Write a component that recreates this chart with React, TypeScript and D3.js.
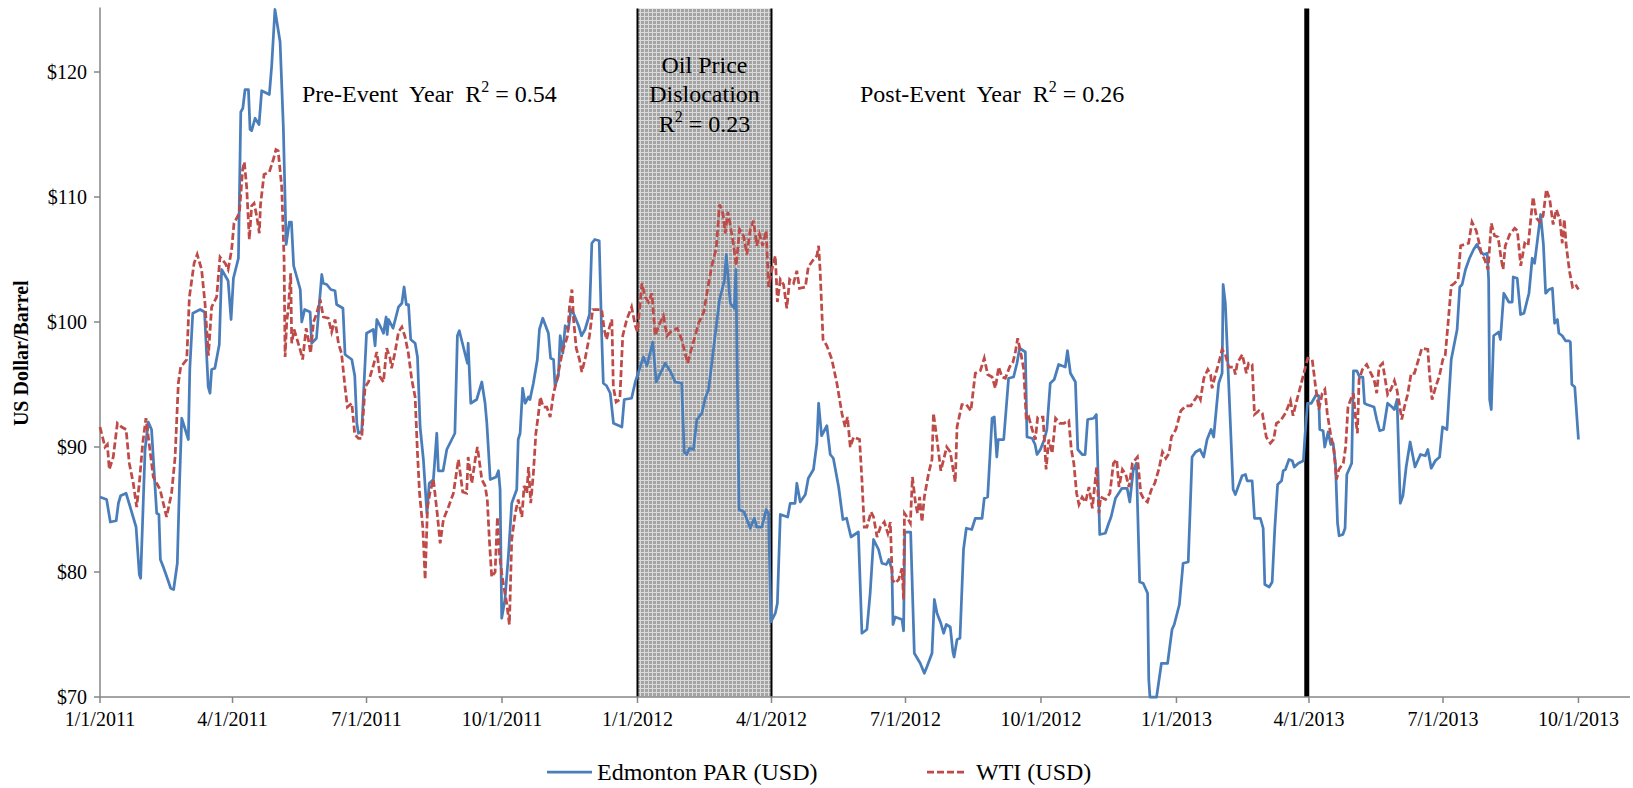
import * as d3 from "d3";

// days since 1/1/2011, US$/bbl
const edmontonPar: [number, number][] = [
  [0, 86.0], [4.5, 85.8], [7, 84.0], [11, 84.1], [12.5, 85.5], [14, 86.1], [17.7, 86.3], [20, 85.4],
  [24.5, 83.6], [26.7, 79.8], [27.6, 79.5], [30.6, 89.8], [32.8, 92.0], [35, 91.4], [38.5, 84.7],
  [40, 84.6], [41, 81.0], [43, 80.4], [45.7, 79.5], [48, 78.7], [50, 78.6], [52.5, 80.7], [54, 87.1],
  [55.5, 92.3], [60, 90.6], [61, 96.3], [63, 100.7], [68, 101.0], [71, 100.8], [73.5, 94.8],
  [74.7, 94.3], [75.8, 96.2], [78, 96.3], [81, 98.2], [82.6, 104.2], [87, 103.3], [89, 100.2],
  [90.6, 103.5], [94, 105.1], [95.6, 116.8], [97, 117.1], [98.5, 118.6], [100.8, 118.6],
  [101.9, 115.4], [103, 115.3], [105.3, 116.3], [108, 115.8], [109.8, 118.5], [115, 118.2],
  [116.6, 120.5], [118.8, 125.0], [122.3, 122.4], [124.5, 115.6], [126.4, 106.2], [128.6, 108.0],
  [130, 108.0], [131.5, 104.5], [136, 102.6], [137, 100.0], [139, 101.0], [142.7, 100.8],
  [143.7, 98.3], [147, 98.7], [150.6, 103.8], [151.6, 103.1], [154, 103.0], [156.7, 102.6],
  [159.6, 102.5], [160.7, 101.4], [165, 101.1], [166.4, 97.4], [171, 97.0], [173, 95.7],
  [174.4, 91.9], [175.5, 91.1], [177.7, 91.2], [181, 99.1], [185.6, 99.4], [186.8, 98.1],
  [188, 100.2], [191.4, 99.4], [192.5, 99.1], [194.3, 100.4], [195, 99.0], [196, 100.2], [199, 99.5],
  [202.7, 101.2], [205, 101.5], [206.5, 102.8], [208, 101.4], [209.5, 101.4], [211, 98.6], [214, 98.3],
  [215.6, 97.2], [217.4, 91.6], [219.6, 89.0], [222, 84.7], [223.6, 87.1], [226.4, 87.4],
  [228.7, 91.1], [229.8, 88.1], [233, 88.1], [235.5, 89.8], [241, 91.1], [242.7, 98.9], [244, 99.3],
  [249.5, 96.7], [250, 98.3], [251.8, 93.5], [255.8, 93.8], [259.3, 95.2], [261.5, 93.5],
  [262.7, 91.9], [265, 87.4], [269, 87.6], [270.6, 88.1], [271.7, 86.6], [272.8, 76.3], [275, 77.8],
  [277.4, 81.4], [279.6, 85.5], [283, 86.6], [284, 90.6], [285.3, 91.1], [287, 94.7], [288.7, 93.5],
  [291, 94.0], [292, 93.8], [294.3, 95.1], [297, 97.0], [298.4, 99.4], [300.7, 100.3], [304.5, 99.1],
  [306, 97.1], [308, 97.0], [309, 94.9], [311.3, 95.7], [312.5, 98.9], [314.3, 97.5], [315.9, 99.7],
  [318, 99.4], [319.8, 101.0], [321.5, 100.7], [325, 99.7], [327, 98.9], [329.4, 99.4],
  [332.4, 100.6], [334, 106.3], [336, 106.6], [339, 106.5], [340.7, 98.9], [341.8, 95.1], [344, 94.9],
  [346.5, 94.3], [348.7, 91.9], [354.4, 91.6], [356, 93.8], [361, 93.9], [363.5, 95.2], [369, 97.2],
  [371.4, 96.5], [375.4, 98.4], [377.7, 95.2], [383.8, 96.7], [387.6, 96.0], [390.6, 95.2],
  [395, 95.1], [396.7, 89.6], [398.5, 89.4], [400.3, 89.9], [403, 89.8], [405.3, 92.2], [408.7, 92.7],
  [411, 93.9], [413.3, 94.6], [417.8, 99.0], [420.7, 101.8], [424, 103.3], [425.3, 105.4],
  [428, 101.5], [430.8, 101.1], [431.8, 104.2], [432.5, 98.1], [434, 85.0], [437.4, 84.8],
  [441.6, 83.5], [444.3, 84.3], [446, 83.6], [449.5, 83.6], [452.4, 85.0], [454, 84.7], [455.6, 76.0],
  [458.6, 76.7], [460, 77.5], [462, 84.6], [467, 84.4], [468.7, 85.5], [472, 85.5], [473.2, 87.1],
  [475.5, 85.6], [479, 86.2], [481, 87.5], [484.5, 88.2], [486.8, 90.3], [488, 93.5], [490, 90.9],
  [493.6, 91.7], [495.9, 89.4], [498, 89.1], [501.6, 86.8], [504.5, 84.2], [507, 84.3], [510, 82.8],
  [515, 83.2], [517.4, 75.1], [520.8, 75.4], [523, 78.3], [525.3, 82.6], [528.7, 81.8], [531, 80.7],
  [534, 80.6], [535.7, 81.0], [537.8, 80.2], [538.5, 75.8], [540, 76.4], [544.6, 76.2], [545.7, 75.3],
  [546.5, 83.2], [550.5, 83.2], [553, 73.5], [557, 72.7], [559.8, 71.9], [561.5, 72.4], [565, 73.5],
  [566.6, 77.8], [568.4, 76.7], [571, 75.9], [572.9, 75.1], [574.7, 75.8], [577.4, 75.6],
  [579.2, 73.6], [580, 73.2], [582, 74.6], [584, 74.7], [586.4, 81.8], [588.3, 83.5], [592, 83.4],
  [594.4, 84.3], [599, 84.3], [600.5, 85.9], [602.8, 86.0], [605.8, 92.3], [607.3, 92.4], [609, 89.2],
  [610, 90.6], [613.7, 90.6], [617, 95.5], [620.4, 95.6], [622.7, 96.7], [624.5, 97.9], [628.4, 97.6],
  [629.5, 90.8], [633, 90.7], [635, 90.2], [636.3, 89.4], [638.6, 89.8], [641.3, 90.6], [643, 91.4],
  [645.3, 95.1], [648, 95.4], [651, 96.6], [655.5, 96.4], [657, 97.7], [659, 95.9], [662.4, 95.2],
  [664, 89.8], [667, 89.4], [669, 89.4], [670.7, 92.2], [674.8, 92.3], [676.6, 92.6], [678.9, 83.0],
  [682.7, 83.1], [685, 83.9], [686.6, 84.4], [689.6, 85.9], [694, 86.7], [697.5, 86.7], [699.3, 85.6],
  [701.6, 88.1], [703.8, 88.7], [706, 79.2], [708.4, 79.1], [711.4, 78.3], [712.2, 71.4], [713, 70.0],
  [717.5, 70.0], [720.8, 72.7], [725, 72.7], [728, 75.4], [729.5, 75.8], [733, 77.4], [735.5, 80.7],
  [739, 80.8], [741.6, 89.2], [744, 89.6], [747, 89.8], [749.5, 89.2], [751.8, 90.6], [754.5, 91.4],
  [756.3, 90.8], [759.7, 95.1], [762, 95.9], [762.7, 103.0], [764.2, 101.5], [769.5, 86.6],
  [771, 86.2], [775.6, 87.7], [777.9, 87.8], [779, 87.3], [782.4, 87.3], [784, 84.3], [788, 84.3],
  [789.9, 83.5], [791, 79.0], [794, 78.8], [796, 79.2], [797.8, 83.5], [799.7, 87.0], [802.4, 87.3],
  [803.5, 88.1], [805, 88.2], [807.4, 89.0], [809.7, 88.9], [811, 88.4], [813.8, 88.7], [817.2, 88.9],
  [818.3, 90.9], [820, 93.5], [822.6, 93.5], [826, 94.2], [827.6, 94.1], [828.3, 91.4], [830.6, 91.3],
  [831.7, 90.0], [834, 91.2], [835.8, 90.2], [837.4, 90.3], [839, 88.6], [840.4, 83.9], [841.5, 82.9],
  [844, 83.0], [845.5, 83.5], [846.7, 87.8], [850, 88.7], [851.2, 96.1], [853.5, 96.1], [855.3, 95.6],
  [857.6, 95.6], [858.7, 93.5], [860.3, 93.4], [865.2, 93.2], [867, 92.2], [869, 91.3], [871.6, 91.4],
  [874.4, 93.5], [877.4, 93.2], [879, 93.0], [880.8, 93.8], [883, 85.5], [884.8, 86.1], [887, 88.4],
  [889.7, 90.4], [893, 88.4], [896.7, 89.4], [900, 89.3], [901.7, 89.8], [904, 88.3], [906.8, 88.9],
  [909.7, 89.2], [911.7, 91.6], [914.7, 91.4], [917.6, 97.0], [921.6, 99.4], [923.4, 102.8],
  [925, 103.0], [927.3, 104.2], [930, 105.1], [932.8, 105.8], [935, 106.2], [937.8, 105.6],
  [939.6, 105.4], [942, 105.5], [943, 103.4], [943.7, 93.8], [944.8, 93.0], [946.4, 98.9],
  [949.8, 99.2], [951, 98.6], [953.3, 102.3], [956.7, 101.6], [959, 101.6], [959.7, 103.6],
  [962.4, 103.5], [964.7, 100.6], [967, 100.7], [970.4, 102.3], [972.6, 105.1], [974.2, 104.7],
  [978.3, 108.6], [980.2, 106.2], [981.7, 102.3], [984, 102.6], [986.3, 102.7], [987.8, 99.9],
  [989.7, 100.2], [990.7, 99.1], [993, 98.9], [995.2, 98.5], [997.5, 98.5], [998.5, 98.4],
  [999.5, 95.0], [1001.5, 94.8], [1004, 90.6],
];

const wti: [number, number][] = [
  [0, 91.6], [3.4, 90.0], [5, 90.2], [6.3, 88.2], [9, 89.2], [11.8, 91.9], [14.7, 91.6], [17.7, 91.4],
  [19.9, 88.7], [22.6, 87.1], [24.9, 85.2], [26.7, 87.1], [29, 90.3], [31.2, 92.3], [32.8, 90.8],
  [36.2, 87.6], [40.8, 86.6], [45.2, 84.4], [48.6, 86.3], [51, 89.2], [53.2, 95.1], [54.8, 96.4],
  [58.9, 97.0], [60.7, 102.0], [63.9, 104.7], [66, 105.4], [69, 104.2], [71.3, 101.5], [73.6, 97.3],
  [75.8, 101.2], [79.2, 102.0], [81.5, 105.2], [85, 104.7], [87, 104.2], [89.4, 105.8], [91, 107.9],
  [92.8, 108.3], [94.6, 108.7], [96.9, 112.2], [98, 112.8], [99.6, 110.8], [101.4, 106.6],
  [103, 109.3], [104.6, 109.5], [106.4, 108.5], [108.2, 107.1], [109, 109.4], [111.4, 111.8],
  [115, 112.0], [117.7, 113.0], [119.5, 113.8], [121, 113.7], [123.4, 110.8], [125, 105.0],
  [125.7, 97.2], [126.8, 100.0], [128, 101.2], [129.5, 103.9], [130.2, 98.3], [131.8, 99.4],
  [133.6, 98.7], [135.9, 97.8], [137.6, 97.0], [140, 99.5], [141.5, 98.6], [143, 97.5], [145, 100.0],
  [147.2, 100.7], [149.5, 101.8], [151.7, 100.4], [155, 100.3], [157.3, 99.2], [159.6, 100.2],
  [161.9, 98.3], [164, 97.5], [166.4, 94.8], [168, 93.2], [171, 93.5], [173, 91.0], [175.5, 90.7],
  [177.7, 90.7], [180, 94.8], [182.3, 95.2], [185.6, 96.5], [188, 97.6], [190.2, 95.6], [192.5, 95.2],
  [194.7, 97.9], [197, 97.1], [198, 96.3], [200.4, 97.6], [202.7, 99.2], [205, 99.6], [207.2, 98.8],
  [209.4, 97.5], [211.7, 95.4], [214, 94.0], [215.6, 89.5], [217, 86.3], [219.2, 83.6], [220.8, 79.4],
  [222.4, 85.2], [224, 86.3], [226.4, 87.4], [229, 84.7], [231, 82.3], [233.2, 84.2], [236.6, 85.2],
  [240, 86.3], [243.4, 89.0], [246.3, 86.4], [249, 86.3], [250, 89.2], [252.5, 87.1], [254.8, 89.0],
  [256.3, 90.0], [259.3, 87.4], [261.5, 86.9], [263, 85.8], [264.4, 82.6], [266, 79.6], [268.3, 80.0],
  [269.9, 84.4], [271.2, 81.5], [272.8, 79.9], [274.5, 78.6], [276.2, 77.5], [278, 75.8],
  [279.6, 82.6], [282, 84.7], [284, 85.8], [286.5, 84.4], [288, 86.9], [289.8, 86.3], [291, 88.4],
  [292.5, 85.5], [294.3, 87.9], [296, 91.1], [297.8, 92.7], [299, 94.0], [301, 93.2], [303.4, 93.2],
  [305.7, 92.4], [308, 94.3], [310.3, 95.4], [312.5, 96.7], [314.3, 97.8], [316, 98.3], [317.5, 98.9],
  [318.8, 101.2], [320.5, 102.6], [321.6, 100.2], [323.4, 97.9], [325.6, 97.0], [327.2, 96.0],
  [329.5, 97.1], [332.4, 98.9], [334.6, 101.0], [338.5, 101.0], [340.7, 101.0], [342.4, 99.4],
  [344, 98.6], [346, 99.6], [347.6, 100.2], [348.6, 94.8], [350.5, 93.6], [353, 93.8], [355, 98.9],
  [357.7, 100.2], [361, 101.2], [363.5, 99.7], [365, 99.2], [368, 103.1], [370.2, 102.0],
  [372.5, 101.6], [374.8, 102.3], [377, 98.9], [379.3, 99.7], [382.6, 100.5], [385, 98.9],
  [388.3, 99.3], [392, 99.5], [395, 98.6], [396.7, 97.8], [399, 96.7], [401.3, 97.7], [404.2, 98.9],
  [406.5, 99.9], [410, 100.8], [412.6, 102.6], [415.5, 104.5], [418.5, 105.9], [420.7, 109.4],
  [423, 108.7], [424.6, 107.1], [426.4, 108.8], [428.5, 107.4], [430.2, 106.2], [432, 104.5],
  [434.3, 107.4], [437, 106.9], [439.3, 105.4], [441.6, 107.4], [443.8, 108.1], [446, 106.1],
  [447.9, 107.0], [450, 106.1], [452.4, 107.3], [454, 102.8], [456.3, 104.2], [458.6, 105.3],
  [460, 101.6], [462, 103.4], [464.2, 103.0], [466.4, 101.1], [468.3, 103.4], [471, 103.1],
  [473.2, 104.1], [475, 102.7], [479, 102.8], [481, 104.4], [484.5, 105.0], [486.8, 105.3],
  [488, 106.1], [489, 104.2], [491, 98.6], [493.6, 98.1], [497, 97.0], [500.4, 95.1], [503.8, 92.7],
  [506, 91.6], [507.6, 92.4], [509.5, 90.0], [511.8, 90.8], [515.8, 90.6], [517.4, 87.4], [519, 83.6],
  [520.8, 83.6], [523.6, 84.8], [525.3, 84.4], [527.7, 82.8], [530, 83.6], [532.6, 84.0], [535, 83.1],
  [536.7, 84.0], [538, 79.4], [540, 79.1], [542.4, 79.4], [544.6, 80.3], [545.7, 77.8], [546.3, 84.7],
  [548, 84.4], [550.3, 83.9], [551.7, 87.6], [553.8, 85.5], [555.2, 84.7], [556.6, 86.0],
  [558.2, 84.0], [559.8, 86.0], [562.7, 87.9], [565, 89.0], [566, 92.7], [568.4, 90.6], [571, 88.1],
  [572.9, 89.0], [575, 90.0], [577.4, 89.6], [579.2, 88.3], [580.8, 87.2], [582, 91.6], [585.3, 93.4],
  [588.3, 93.4], [591.4, 92.9], [594.4, 95.9], [597.8, 96.1], [600.5, 97.1], [602.8, 95.8],
  [605.8, 95.6], [608, 94.7], [610.3, 96.4], [612.5, 95.6], [614.8, 95.5], [617.7, 96.4], [620, 96.8],
  [621.6, 97.6], [623.2, 98.7], [625.5, 97.4], [627.3, 96.2], [629, 92.2], [630.7, 92.4], [633, 91.4],
  [635.2, 90.6], [636.8, 92.4], [640.4, 92.4], [641.3, 90.6], [642.5, 88.2], [644.3, 90.6],
  [646.6, 89.5], [648.9, 92.3], [651.8, 91.9], [654.5, 91.9], [657.9, 92.1], [659.6, 89.8],
  [661.3, 88.7], [663.2, 86.3], [664.8, 85.4], [667, 86.0], [669.3, 85.6], [671.6, 86.8],
  [673.9, 85.1], [676.8, 88.4], [678.4, 84.7], [679.5, 86.0], [682.9, 85.8], [685.8, 86.3],
  [688.2, 88.7], [690.4, 89.0], [692, 86.8], [694.3, 88.2], [696.6, 87.8], [698.8, 86.8],
  [701.1, 88.7], [704.5, 89.2], [706.8, 86.3], [709, 85.8], [711.3, 85.6], [714, 86.6], [716.3, 87.1],
  [719.2, 88.3], [721.5, 89.6], [723.8, 89.1], [726, 89.5], [727.6, 90.8], [730.6, 91.4], [734, 92.9],
  [737.4, 93.3], [740.8, 93.3], [743, 93.7], [745.8, 94.2], [747.3, 93.8], [749.6, 95.5],
  [752.3, 96.2], [754.2, 95.8], [755.2, 94.7], [757.5, 95.8], [759.7, 96.7], [762, 97.8],
  [764.2, 97.4], [766.5, 96.4], [769.9, 96.4], [771, 95.8], [772.3, 96.7], [775.7, 97.4],
  [778.5, 95.9], [780, 96.7], [782.4, 96.6], [784, 92.6], [787, 92.9], [789.3, 92.7], [792, 90.8],
  [794.8, 90.3], [797, 90.6], [798.9, 91.9], [801.6, 92.1], [805, 92.7], [808.4, 93.7], [810.2, 92.5],
  [811.8, 93.3], [814, 94.3], [817.5, 95.9], [820.2, 97.1], [823.2, 97.0], [825.4, 94.9],
  [827.7, 93.0], [830, 94.3], [831.8, 94.6], [833.4, 92.7], [835.6, 91.1], [837.9, 89.8],
  [839.7, 87.4], [841.3, 88.2], [844.3, 88.7], [845.9, 90.0], [847.5, 93.2], [849.3, 93.8],
  [851.2, 94.3], [852.7, 92.2], [853.9, 91.1], [855, 95.4], [857.3, 96.2], [860.2, 96.6], [863, 95.9],
  [865.2, 95.4], [867, 94.3], [868.6, 96.4], [871, 96.7], [872.5, 95.6], [874.4, 94.2], [876.6, 94.6],
  [879, 95.3], [880.7, 94.6], [882.3, 93.5], [884, 92.2], [885.8, 93.2], [888, 94.2], [890.4, 95.9],
  [892.6, 95.9], [895.4, 97.0], [897.6, 97.9], [901.7, 97.8], [902.8, 95.9], [904.6, 93.8],
  [907.3, 94.9], [909.6, 95.7], [911.9, 97.0], [913.5, 97.3], [915.3, 99.7], [917.6, 102.9],
  [919.8, 103.1], [922.2, 103.4], [924, 106.1], [926.7, 106.2], [929.4, 106.3], [931.7, 108.0],
  [934.6, 107.3], [936.2, 106.5], [938, 105.5], [940.3, 105.0], [942.6, 104.2], [944.8, 107.9],
  [947, 106.9], [949.4, 106.8], [951.6, 105.0], [952.8, 104.2], [954.3, 106.1], [957.3, 107.0],
  [960.7, 107.5], [962.5, 107.3], [964.8, 104.5], [967.5, 106.3], [969.8, 106.1], [971.6, 108.2],
  [973.2, 110.0], [975.5, 108.3], [977.7, 108.0], [980, 108.5], [982.2, 110.6], [984.5, 109.8],
  [986.8, 107.8], [989, 109.0], [991.4, 108.2], [993, 106.3], [994.4, 108.2], [995.7, 106.1],
  [998, 104.0], [1000, 102.8], [1002, 103.0], [1004, 102.6],
];

const Y_TICKS = [70, 80, 90, 100, 110, 120];
const SERIES = ["Edmonton PAR (USD)", "WTI (USD)"];
const BLUE = "#4a7ebb";
const RED = "#be4b48";
const FONT = "Liberation Serif, DejaVu Serif, serif";

const START = Date.UTC(2011, 0, 1);
const toDate = (day: number) => new Date(START + day * 864e5);

const LEFT = 100;
const RIGHT = 1630;
const TOP = 9.5;
const BOTTOM = 697;

export default function App() {
  const x = d3
    .scaleUtc()
    .domain([toDate(0), new Date(Date.UTC(2013, 10, 5))])
    .range([LEFT, RIGHT]);
  const y = d3.scaleLinear().domain([70, 125]).range([BOTTOM, TOP]);

  const line = d3
    .line<[number, number]>()
    .x((d) => x(toDate(d[0])))
    .y((d) => y(d[1]));

  const xTicks = d3.utcMonth
    .every(3)!
    .range(new Date(Date.UTC(2011, 0, 1)), new Date(Date.UTC(2013, 9, 2)));
  const fmt = (d: Date) => `${d.getUTCMonth() + 1}/${d.getUTCDate()}/${d.getUTCFullYear()}`;

  const shadeX0 = x(new Date(Date.UTC(2012, 0, 1)));
  const shadeX1 = x(new Date(Date.UTC(2012, 3, 1)));
  const eventX = x(new Date(Date.UTC(2013, 2, 30, 12)));
  const shadeMid = (shadeX0 + shadeX1) / 2;

  const r2 = (value: string) => [
    <tspan key="r">R</tspan>,
    <tspan key="s" dy={-10} fontSize={16}>2</tspan>,
    <tspan key="v" dy={10}>{` = ${value}`}</tspan>,
  ];

  return (
    <svg
      width={1633}
      height={788}
      style={{ position: "absolute", left: 0, top: 0, background: "#fff" }}
      fontFamily={FONT}
    >
      <defs>
        <pattern id="grid" width={4} height={4} patternUnits="userSpaceOnUse">
          <rect width={4} height={4} fill="#a3a3a3" />
          <rect width={4} height={1} fill="#dadada" />
          <rect width={1} height={4} fill="#dadada" />
        </pattern>
      </defs>

      {/* Oil price dislocation window */}
      <rect x={shadeX0} y={TOP - 1} width={shadeX1 - shadeX0} height={BOTTOM - TOP + 1} fill="url(#grid)" />
      <line x1={shadeX0} x2={shadeX0} y1={TOP - 1} y2={BOTTOM} stroke="#000" strokeWidth={2} />
      <line x1={shadeX1} x2={shadeX1} y1={TOP - 1} y2={BOTTOM} stroke="#000" strokeWidth={2} />
      <line x1={eventX} x2={eventX} y1={TOP - 1} y2={BOTTOM} stroke="#000" strokeWidth={5} />

      {/* axes */}
      <line x1={LEFT} x2={LEFT} y1={TOP - 2} y2={BOTTOM} stroke="#868686" strokeWidth={1.5} />
      <line x1={LEFT} x2={RIGHT} y1={BOTTOM} y2={BOTTOM} stroke="#868686" strokeWidth={1.5} />
      {Y_TICKS.map((t) => (
        <g key={t}>
          <line x1={LEFT - 6} x2={LEFT} y1={y(t)} y2={y(t)} stroke="#868686" strokeWidth={1.5} />
          <text x={LEFT - 13} y={y(t)} dy="0.35em" textAnchor="end" fontSize={20} fontFamily={FONT}>
            ${t}
          </text>
        </g>
      ))}
      {xTicks.map((t) => (
        <g key={t.getTime()}>
          <line x1={x(t)} x2={x(t)} y1={BOTTOM} y2={BOTTOM + 6} stroke="#868686" strokeWidth={1.5} />
          <text x={x(t)} y={BOTTOM + 29} textAnchor="middle" fontSize={20} fontFamily={FONT}>
            {fmt(t)}
          </text>
        </g>
      ))}
      <text
        transform={`translate(28,${(TOP + BOTTOM) / 2}) rotate(-90)`}
        textAnchor="middle"
        fontSize={20}
        fontWeight="bold"
        fontFamily={FONT}
      >
        US Dollar/Barrel
      </text>

      {/* series */}
      <path d={line(edmontonPar)!} fill="none" stroke={BLUE} strokeWidth={2.75} strokeLinejoin="round" />
      <path d={line(wti)!} fill="none" stroke={RED} strokeWidth={2.75} strokeDasharray="7,3" />

      {/* annotations */}
      <text x={302} y={102} fontSize={24} fontFamily={FONT} xmlSpace="preserve">
        <tspan>{"Pre-Event  Year  "}</tspan>
        {r2("0.54")}
      </text>
      <text x={shadeMid} y={73} fontSize={24} fontFamily={FONT} textAnchor="middle">
        Oil Price
      </text>
      <text x={shadeMid} y={102} fontSize={24} fontFamily={FONT} textAnchor="middle">
        Dislocation
      </text>
      <text x={shadeMid} y={132} fontSize={24} fontFamily={FONT} textAnchor="middle">
        {r2("0.23")}
      </text>
      <text x={860} y={102} fontSize={24} fontFamily={FONT} xmlSpace="preserve">
        <tspan>{"Post-Event  Year  "}</tspan>
        {r2("0.26")}
      </text>

      {/* legend */}
      <line x1={547} x2={592} y1={772} y2={772} stroke={BLUE} strokeWidth={2.75} />
      <text x={597} y={780} fontSize={24} fontFamily={FONT}>
        {SERIES[0]}
      </text>
      <line x1={927} x2={967} y1={772} y2={772} stroke={RED} strokeWidth={2.75} strokeDasharray="7,3" />
      <text x={976} y={780} fontSize={24} fontFamily={FONT}>
        {SERIES[1]}
      </text>
    </svg>
  );
}
